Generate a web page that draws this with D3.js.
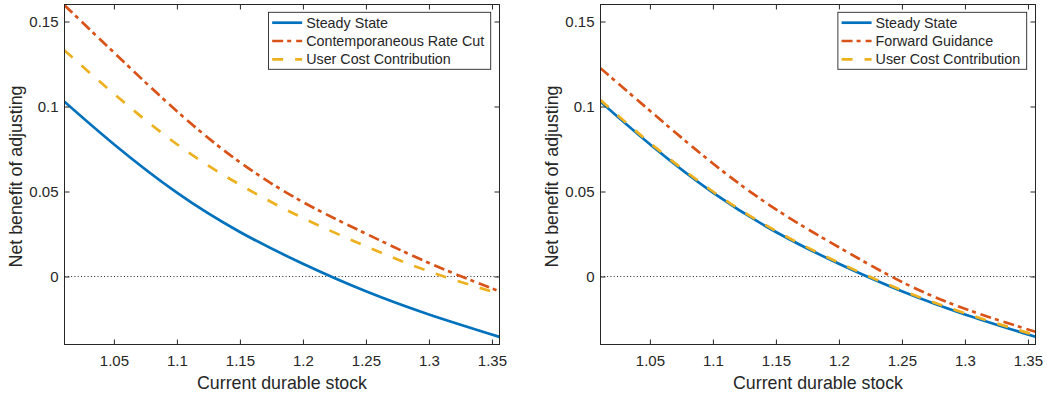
<!DOCTYPE html>
<html>
<head>
<meta charset="utf-8">
<script src="https://cdn.jsdelivr.net/npm/d3@7"></script>
<style>
  body { margin: 0; background: #fff; }
  svg { display: block; font-family: "Liberation Sans", Arial, Helvetica, sans-serif; }
  .tick text { fill: #262626; }
</style>
</head>
<body>
<svg width="1047" height="395"></svg>
<script>
// Current durable stock (x) sample points.
let stock = [1.0108, 1.05, 1.1, 1.15, 1.2, 1.25, 1.3, 1.356];

// Left panel: contemporaneous rate cut.
let steadyState = [0.1028, 0.0778, 0.0493, 0.0262, 0.0075, -0.0087, -0.0223, -0.0355];
let rateCut = [0.1595, 0.1318, 0.0972, 0.0672, 0.0438, 0.0252, 0.0080, -0.0088];
let userCostLeft = [0.1330, 0.1075, 0.0778, 0.0540, 0.0344, 0.0178, 0.0030, -0.0102];

// Right panel: forward guidance.
let forwardGuidance = [0.1225, 0.0975, 0.0665, 0.0395, 0.0172, -0.0032, -0.0190, -0.0325];
let userCostRight = [0.1038, 0.0786, 0.0500, 0.0268, 0.0081, -0.0081, -0.0216, -0.0346];

// Axes and ticks.
let xDomain = [1.0108, 1.356];
let yDomain = [-0.04, 0.16];
let xTicks = [1.05, 1.1, 1.15, 1.2, 1.25, 1.3, 1.35];
let yTicks = [0, 0.05, 0.1, 0.15];
let xLabel = "Current durable stock";
let yLabel = "Net benefit of adjusting";

let colours = { blue: "#0072BD", red: "#D95319", yellow: "#EDB120" };
let ink = "#262626";

let svg = d3.select("svg");

let panels = [
  {
    left: 64.5, right: 499.5, labelX: 21.5,
    series: [
      { name: "Steady State", values: steadyState, colour: colours.blue, dash: null },
      { name: "Contemporaneous Rate Cut", values: rateCut, colour: colours.red, dash: "11,4,4,5" },
      { name: "User Cost Contribution", values: userCostLeft, colour: colours.yellow, dash: "11,12" }
    ]
  },
  {
    left: 600.5, right: 1035.5, labelX: 557.5,
    series: [
      { name: "Steady State", values: steadyState, colour: colours.blue, dash: null },
      { name: "Forward Guidance", values: forwardGuidance, colour: colours.red, dash: "11,4,4,5" },
      { name: "User Cost Contribution", values: userCostRight, colour: colours.yellow, dash: "11,12" }
    ]
  }
];

let plotTop = 4.5, plotBottom = 344.5;

// Draws one panel: box, ticks, zero line, curves, legend.
let draw_panel = function (p) {
  let x = d3.scaleLinear().domain(xDomain).range([p.left, p.right]);
  let y = d3.scaleLinear().domain(yDomain).range([plotBottom, plotTop]);
  let g = svg.append("g");

  // Clip so curves stay inside the box.
  let clipId = "clip" + Math.round(p.left);
  svg.append("clipPath").attr("id", clipId)
    .append("rect")
    .attr("x", p.left).attr("y", plotTop)
    .attr("width", p.right - p.left).attr("height", plotBottom - plotTop);

  // Zero line, dotted.
  g.append("line")
    .attr("x1", p.left).attr("x2", p.right)
    .attr("y1", y(0)).attr("y2", y(0))
    .style("stroke", "#222")
    .style("stroke-width", 1)
    .style("stroke-dasharray", "1,2.3");

  let line = d3.line()
    .x((d, i) => x(stock[i]))
    .y(d => y(d))
    .curve(d3.curveNatural);

  let curves = g.append("g").attr("clip-path", "url(#" + clipId + ")");
  p.series.forEach(function (s) {
    curves.append("path")
      .datum(s.values)
      .attr("d", line)
      .style("fill", "none")
      .style("stroke", s.colour)
      .style("stroke-width", 2.7)
      .style("stroke-dasharray", s.dash);
  });

  // Axes with inward ticks on all four sides.
  let tickFont = "15px";
  let gx = g.append("g").attr("transform", "translate(0," + plotBottom + ")")
    .call(d3.axisBottom(x).tickValues(xTicks).tickFormat(d3.format("~g"))
      .tickSizeInner(-5).tickSizeOuter(0).tickPadding(11));
  let gy = g.append("g").attr("transform", "translate(" + p.left + ",0)")
    .call(d3.axisLeft(y).tickValues(yTicks).tickFormat(d3.format("~g"))
      .tickSizeInner(-5).tickSizeOuter(0).tickPadding(6));
  let gt = g.append("g").attr("transform", "translate(0," + plotTop + ")")
    .call(d3.axisTop(x).tickValues(xTicks).tickFormat("").tickSizeInner(-5).tickSizeOuter(0));
  let gr = g.append("g").attr("transform", "translate(" + p.right + ",0)")
    .call(d3.axisRight(y).tickValues(yTicks).tickFormat("").tickSizeInner(-5).tickSizeOuter(0));

  [gx, gy, gt, gr].forEach(function (a) {
    a.select(".domain").remove();
    a.attr("font-family", null).attr("font-size", null);
    a.selectAll(".tick line").style("stroke", ink);
    a.selectAll(".tick text").style("font-size", tickFont);
  });

  // Box.
  g.append("rect")
    .attr("x", p.left).attr("y", plotTop)
    .attr("width", p.right - p.left).attr("height", plotBottom - plotTop)
    .style("fill", "none")
    .style("stroke", ink)
    .style("stroke-width", 1);

  // Axis labels.
  g.append("text")
    .attr("x", (p.left + p.right) / 2)
    .attr("y", 388.5)
    .attr("text-anchor", "middle")
    .style("font-size", "17.8px")
    .style("fill", ink)
    .text(xLabel);

  g.append("text")
    .attr("transform", "translate(" + p.labelX + "," + ((plotTop + plotBottom) / 2 + 2) + ") rotate(-90)")
    .attr("text-anchor", "middle")
    .style("font-size", "17.8px")
    .style("fill", ink)
    .text(yLabel);

  // Legend, anchored to the top-right corner.
  let lg = g.append("g");
  let box = lg.append("rect");
  let rows = p.series.map(function (s, i) {
    let row = lg.append("g").attr("transform", "translate(0," + (10.4 + i * 18.3) + ")");
    row.append("line")
      .attr("x1", 3.7).attr("x2", 33.7)
      .style("stroke", s.colour)
      .style("stroke-width", 2.7)
      .style("stroke-dasharray", s.dash);
    return row.append("text")
      .attr("x", 37.7)
      .attr("dy", "0.36em")
      .style("font-size", "14.3px")
      .style("fill", ink)
      .text(s.name);
  });
  let maxText = d3.max(rows, t => t.node().getComputedTextLength());
  let boxW = 37.7 + maxText + 6.5;
  let boxH = 57;
  box.attr("width", boxW).attr("height", boxH)
    .style("fill", "#fff")
    .style("stroke", ink)
    .style("stroke-width", 0.9);
  lg.attr("transform", "translate(" + (p.right - 8.8 - boxW) + "," + 12.3 + ")");
};

panels.forEach(draw_panel);
</script>
</body>
</html>
